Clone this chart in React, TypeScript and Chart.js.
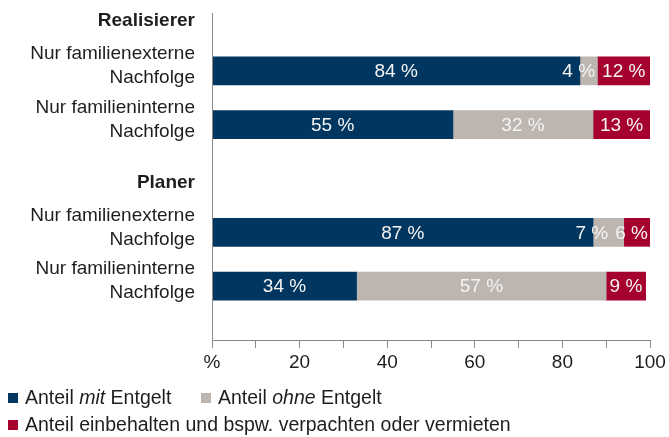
import { useEffect, useRef } from "react";
import { Chart, registerables } from "chart.js";

Chart.register(...registerables);

const FONT = "'Liberation Sans', Arial, Helvetica, sans-serif";

// Rows of the y axis (two group headings, four bars, one empty closing row)
const categories: (string | string[])[] = [
  ["", "Realisierer"],
  ["Nur familienexterne", "Nachfolge"],
  ["Nur familieninterne", "Nachfolge"],
  ["", "Planer"],
  ["Nur familienexterne", "Nachfolge"],
  ["Nur familieninterne", "Nachfolge"],
  "",
];
const headingRows = [0, 3];

const seriesNames = [
  "Anteil mit Entgelt",
  "Anteil ohne Entgelt",
  "Anteil einbehalten und bspw. verpachten oder vermieten",
];
const seriesItalicWord = ["mit", "ohne", ""];
const seriesColors = ["#00365f", "#bcb5b0", "#a6002f"];

// values (percent) as drawn
const mitEntgelt = [null, 84, 55, null, 87, 33, null];
const ohneEntgelt = [null, 4, 32, null, 7, 57, null];
const einbehalten = [null, 12, 13, null, 6, 9, null];

// value labels as printed
const mitLabels = [null, "84 %", "55 %", null, "87 %", "34 %", null];
const ohneLabels = [null, "4 %", "32 %", null, "7 %", "57 %", null];
const einbehaltenLabels = [null, "12 %", "13 %", null, "6 %", "9 %", null];

const xMin = 0;
const xMax = 100;
const xStep = 10;
const xLabelEvery = 20;
const xZeroLabel = "%";

const seriesValues = [mitEntgelt, ohneEntgelt, einbehalten];
const seriesLabels = [mitLabels, ohneLabels, einbehaltenLabels];

const AXIS_COLOR = "#8a8a8a";
const TEXT_COLOR = "#1e1e1e";

const axisLinePlugin = {
  id: "axisLine",
  afterDraw(chart: any) {
    const { ctx, chartArea } = chart;
    const x = Math.floor(chartArea.left) + 0.5;
    ctx.save();
    ctx.strokeStyle = AXIS_COLOR;
    ctx.lineWidth = 1;
    ctx.beginPath();
    ctx.moveTo(x, chartArea.top - 4);
    ctx.lineTo(x, chartArea.bottom);
    ctx.stroke();
    ctx.restore();
  },
};

const barLabelPlugin = {
  id: "barLabels",
  afterDatasetsDraw(chart: any) {
    const ctx = chart.ctx;
    ctx.save();
    ctx.font = `19px ${FONT}`;
    ctx.textBaseline = "middle";
    ctx.textAlign = "center";
    ctx.fillStyle = "#f4f4f4";
    const n = chart.data.labels.length;
    for (let i = 0; i < n; i++) {
      const items: any[] = [];
      chart.data.datasets.forEach((ds: any, d: number) => {
        const meta = chart.getDatasetMeta(d);
        const el = meta.data[i];
        const txt = seriesLabels[d][i];
        if (!el || txt == null || ds.data[i] == null) return;
        const p = el.getProps(["x", "base", "y"], true);
        const w = ctx.measureText(txt).width;
        items.push({ txt, c: (p.x + p.base) / 2, w, y: p.y, end: Math.max(p.x, p.base) });
      });
      let limit = Infinity;
      for (let k = items.length - 1; k >= 0; k--) {
        const it = items[k];
        const maxRight = Math.min(limit, k === items.length - 1 ? it.end - 2 : Infinity);
        if (it.c + it.w / 2 > maxRight) it.c = maxRight - it.w / 2;
        limit = it.c - it.w / 2 - 7;
        ctx.fillText(it.txt, it.c, it.y + 1);
      }
    }
    ctx.restore();
  },
};

const legendPlugin = {
  id: "customLegend",
  afterDraw(chart: any) {
    const ctx = chart.ctx;
    const h = chart.height;
    const rows = [h - 39, h - 12];
    const positions = [
      { x: 8, y: rows[0] },
      { x: 201, y: rows[0] },
      { x: 8, y: rows[1] },
    ];
    ctx.save();
    ctx.textBaseline = "middle";
    ctx.textAlign = "left";
    seriesNames.forEach((name, i) => {
      const pos = positions[i];
      ctx.fillStyle = seriesColors[i];
      ctx.fillRect(pos.x, pos.y - 5, 10, 10);
      let x = pos.x + 17;
      const word = seriesItalicWord[i];
      let parts: [string, boolean][] = [[name, false]];
      if (word) {
        const idx = name.indexOf(word);
        parts = [
          [name.slice(0, idx), false],
          [word, true],
          [name.slice(idx + word.length), false],
        ];
      }
      ctx.fillStyle = TEXT_COLOR;
      parts.forEach(([t, it]) => {
        ctx.font = `${it ? "italic " : ""}19.5px ${FONT}`;
        ctx.fillText(t, x, pos.y + 1);
        x += ctx.measureText(t).width;
      });
    });
    ctx.restore();
  },
};

export default function App() {
  const canvasRef = useRef<HTMLCanvasElement | null>(null);

  useEffect(() => {
    if (!canvasRef.current) return;
    const chart = new Chart(canvasRef.current, {
      type: "bar",
      data: {
        labels: categories as any,
        datasets: seriesNames.map((name, i) => ({
          label: name,
          data: seriesValues[i] as any,
          backgroundColor: seriesColors[i],
          borderWidth: 0,
          barThickness: 28,
        })),
      },
      options: {
        indexAxis: "y",
        responsive: true,
        maintainAspectRatio: false,
        animation: false,
        layout: { padding: { top: 17, right: 19, bottom: 67, left: 0 } },
        plugins: {
          legend: { display: false },
          tooltip: { enabled: false },
          title: { display: false },
        },
        scales: {
          y: {
            type: "category",
            offset: false,
            stacked: true,
            grid: { display: false, drawTicks: false },
            border: { display: false },
            afterFit(scale: any) {
              scale.width = 212;
              scale.paddingTop = 0;
              scale.paddingBottom = 0;
            },
            ticks: {
              autoSkip: false,
              padding: 17,
              labelOffset: -5,
              color: TEXT_COLOR,
              font: (c: any) =>
                headingRows.includes(c.index)
                  ? { family: FONT, size: 19, weight: "bold", lineHeight: "18px" }
                  : { family: FONT, size: 19, weight: "normal", lineHeight: "24px" },
            },
          },
          x: {
            type: "linear",
            stacked: true,
            min: xMin,
            max: xMax,
            grid: {
              display: true,
              drawOnChartArea: false,
              drawTicks: true,
              tickLength: 8,
              color: AXIS_COLOR,
            },
            border: { display: true, color: AXIS_COLOR },
            afterFit(scale: any) {
              scale.height = 30;
            },
            ticks: {
              stepSize: xStep,
              autoSkip: false,
              maxRotation: 0,
              padding: 3,
              color: TEXT_COLOR,
              font: { family: FONT, size: 19 },
              callback: (v: any) => {
                const n = Number(v);
                if (n === 0) return xZeroLabel;
                return n % xLabelEvery === 0 ? String(n) : "";
              },
            },
          },
        },
      },
      plugins: [barLabelPlugin, axisLinePlugin, legendPlugin],
    });
    return () => chart.destroy();
  }, []);

  return (
    <div style={{ position: "fixed", left: 0, top: 0, width: 669, height: 437, background: "#fff" }}>
      <canvas ref={canvasRef} />
    </div>
  );
}
